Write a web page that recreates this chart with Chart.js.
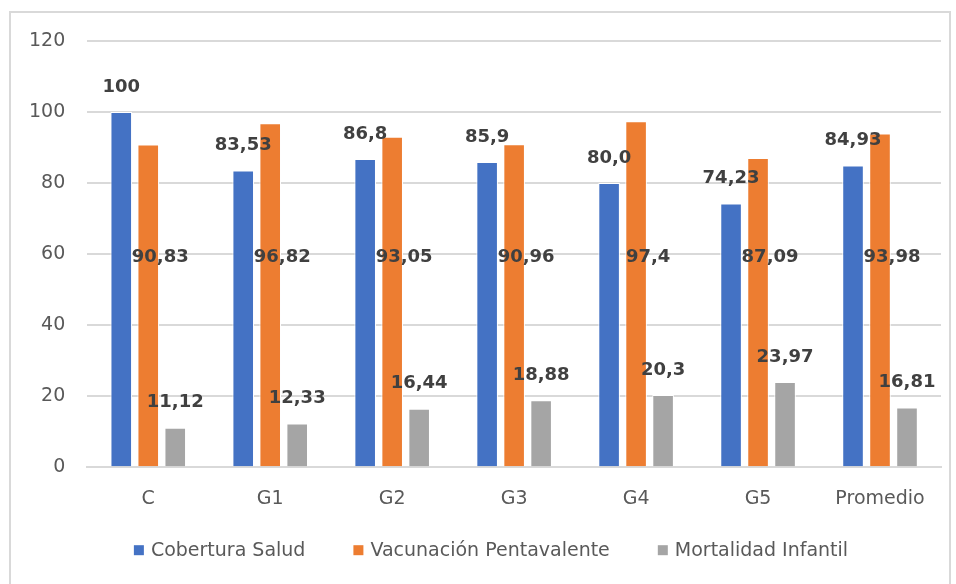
<!DOCTYPE html>
<html>
<head>
  <meta charset="UTF-8">
  <title>Cobertura, vacunación y mortalidad</title>
  <script src="https://cdn.jsdelivr.net/npm/chart.js"></script>
  <style>
    body {
      margin: 0;
      background: #fff;
    }
    canvas {
      display: block;
    }
  </style>
</head>
<body>
  <canvas id="chart" width="956" height="584"></canvas>

  <script>
    const categories = ['C', 'G1', 'G2', 'G3', 'G4', 'G5', 'Promedio'];
    const seriesNames = ['Cobertura Salud', 'Vacunación Pentavalente', 'Mortalidad Infantil'];

    const cobertura = [100, 83.53, 86.8, 85.9, 80.0, 74.23, 84.93];
    const vacunacion = [90.83, 96.82, 93.05, 90.96, 97.4, 87.09, 93.98];
    const mortalidad = [11.12, 12.33, 16.44, 18.88, 20.3, 23.97, 16.81];

    // labels as printed in the source (keeps "80,0", "86,8" etc.)
    const coberturaText = ['100', '83,53', '86,8', '85,9', '80,0', '74,23', '84,93'];
    const vacunacionText = ['90,83', '96,82', '93,05', '90,96', '97,4', '87,09', '93,98'];
    const mortalidadText = ['11,12', '12,33', '16,44', '18,88', '20,3', '23,97', '16,81'];

    const yTicks = [0, 20, 40, 60, 80, 100, 120];

    const colors = ['#4472C4', '#ED7D31', '#A5A5A5'];
    const FONT = '"DejaVu Sans", sans-serif';

    const labelTexts = [coberturaText, vacunacionText, mortalidadText];

    const frame = {
      id: 'frame',
      beforeDraw(chart) {
        const c = chart.ctx;
        c.save();
        c.strokeStyle = '#d9d9d9';
        c.lineWidth = 2;
        c.strokeRect(10, 12, 940, 600);
        c.restore();
      }
    };

    const valueLabels = {
      id: 'valueLabels',
      afterDatasetsDraw(chart) {
        const c = chart.ctx;
        const yScale = chart.scales.y;
        c.save();
        c.font = 'bold 18px ' + FONT;
        c.fillStyle = '#404040';
        c.textAlign = 'center';
        c.textBaseline = 'middle';
        chart.data.datasets.forEach((ds, i) => {
          chart.getDatasetMeta(i).data.forEach((bar, j) => {
            const txt = labelTexts[i][j];
            if (i === 1) {
              // orange labels sit inside the bar, a bit right of centre
              c.fillText(txt, bar.x + 12, yScale.getPixelForValue(59));
            } else {
              c.fillText(txt, bar.x, bar.y - 25);
            }
          });
        });
        c.restore();
      }
    };

    // legend drawn by hand so the item spacing can match the original
    const bottomLegend = {
      id: 'bottomLegend',
      afterDraw(chart) {
        const c = chart.ctx;
        const gap = 7, spacing = 48, box = 10;
        c.save();
        c.font = '19px ' + FONT;
        c.textBaseline = 'middle';
        c.textAlign = 'left';
        const widths = chart.data.datasets.map(ds => c.measureText(ds.label).width);
        const total = widths.reduce((a, w) => a + box + gap + w, 0) + spacing * (widths.length - 1);
        let x = chart.width / 2 + 13 - total / 2;
        const y = chart.chartArea.bottom + 83;
        chart.data.datasets.forEach((ds, i) => {
          c.fillStyle = ds.backgroundColor;
          c.fillRect(x, y - box / 2, box, box);
          x += box + gap;
          c.fillStyle = '#595959';
          c.fillText(ds.label, x, y + 1);
          x += widths[i] + spacing;
        });
        c.restore();
      }
    };

    new Chart(document.getElementById('chart'), {
      type: 'bar',
      data: {
        labels: categories,
        datasets: [
          { label: seriesNames[0], data: cobertura },
          { label: seriesNames[1], data: vacunacion },
          { label: seriesNames[2], data: mortalidad }
        ].map((d, i) => ({
          ...d,
          backgroundColor: colors[i],
          borderColor: '#ffffff',
          borderWidth: 1,
          barPercentage: 0.8,
          categoryPercentage: 0.664
        }))
      },
      options: {
        responsive: false,
        animation: false,
        layout: {
          padding: { left: 7, right: 15, top: 41, bottom: 54 }
        },
        plugins: {
          legend: { display: false },
          tooltip: { enabled: false }
        },
        scales: {
          x: {
            grid: { display: false, drawTicks: false },
            border: { color: '#d9d9d9', width: 2 },
            ticks: {
              color: '#595959',
              padding: 20,
              font: { family: FONT, size: 19 }
            }
          },
          y: {
            min: 0,
            max: 120,
            afterBuildTicks(axis) {
              axis.ticks = yTicks.map(v => ({ value: v }));
            },
            grid: { color: '#d9d9d9', lineWidth: 2, drawTicks: false },
            border: { display: false },
            ticks: {
              color: '#595959',
              padding: 22,
              font: { family: FONT, size: 19 }
            }
          }
        }
      },
      plugins: [frame, valueLabels, bottomLegend]
    });
  </script>
</body>
</html>
